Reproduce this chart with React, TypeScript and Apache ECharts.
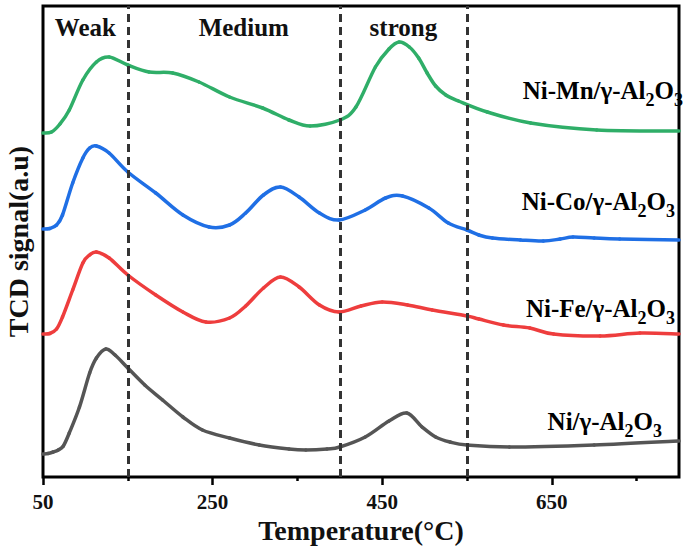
import { useEffect, useRef } from 'react';
import * as echarts from 'echarts';

const SERIF = '"Liberation Serif", "Times New Roman", Times, serif';

// x axis (Temperature, °C)
const xMin = 50;
const xMax = 800;
const xMajorTicks = [50, 250, 450, 650];
const xMinorTicks = [150, 350, 550, 750];
const dividers = [150, 400, 550];
const regionNames = ['Weak', 'Medium', 'strong'];
const regionBounds = [50, 150, 400, 550];

// TCD signal (a.u.), curves stacked with offsets
const niMn: number[][] = [
  [50, 344], [60, 345], [70, 353], [81, 367], [97, 397], [113, 415], [128, 420], [150, 412],
  [175, 405], [203, 404], [234, 395], [270, 380], [309, 369], [340, 357], [365, 351],
  [400, 357], [419, 370], [442, 410], [458, 428], [470, 435], [482, 430], [493, 419],
  [503, 404], [513, 391], [525, 382], [540, 376], [574, 365], [625, 354], [703, 347], [800, 346],
];
const niCo: number[][] = [
  [50, 248], [58, 248.5], [66, 252], [73, 262], [85, 294], [97, 319], [105, 329], [113, 331],
  [128, 324], [150, 305], [183, 284], [215, 262], [246, 250], [270, 252], [289, 264],
  [310, 282], [330, 290], [352, 280], [376, 264], [399, 257], [430, 267], [454, 279],
  [474, 281], [505, 269], [528, 254], [550, 247], [564, 242], [580, 239], [613, 237],
  [640, 236], [660, 238], [675, 240], [700, 239], [730, 238], [800, 237],
];
const niFe: number[][] = [
  [50, 143], [58, 143.5], [66, 148], [73, 160], [85, 187], [97, 214], [105, 222], [113, 225],
  [128, 219], [150, 202], [183, 182], [215, 165], [242, 155], [270, 159], [289, 171],
  [310, 189], [330, 200], [352, 190], [376, 172], [399, 165], [425, 171], [450, 175], [480, 172],
  [509, 167], [550, 161], [564, 158], [593, 152], [624, 149], [652, 143], [707, 141], [754, 144],
  [800, 143],
];
const ni: number[][] = [
  [50, 23], [56, 23.5], [62, 25], [68, 27], [74, 31], [81, 44], [93, 70], [105, 104], [113, 119],
  [124, 128], [135, 122], [150, 109], [170, 92], [191, 77], [215, 60], [238, 47], [270, 39],
  [305, 32], [340, 28], [360, 27], [385, 28], [400, 30], [430, 40], [458, 56], [479, 64],
  [497, 50], [513, 40], [530, 35], [550, 32], [600, 30], [700, 32], [800, 36],
];

const seriesNames = ['Ni-Mn/γ-Al2O3', 'Ni-Co/γ-Al2O3', 'Ni-Fe/γ-Al2O3', 'Ni/γ-Al2O3'];
const seriesPrefixes = ['Ni-Mn/γ-Al', 'Ni-Co/γ-Al', 'Ni-Fe/γ-Al', 'Ni/γ-Al'];
const seriesColors = ['#2fae68', '#1f6fe5', '#ee3d3d', '#555555'];
const seriesData = [niMn, niCo, niFe, ni];

function smoothSeries(name: string, pts: number[][], color: string) {
  // Catmull-Rom spline through the data points, drawn segment by segment
  return {
    type: 'custom',
    name,
    coordinateSystem: 'cartesian2d',
    data: pts,
    encode: { x: 0, y: 1 },
    z: 3,
    renderItem: (params: any, api: any) => {
      const k = params.dataIndex;
      const n = pts.length;
      if (k >= n - 1) return null;
      const P = (j: number) => api.coord(pts[Math.max(0, Math.min(n - 1, j))]);
      const p0 = P(k - 1);
      const p1 = P(k);
      const p2 = P(k + 1);
      const p3 = P(k + 2);
      const t = 1 / 6;
      return {
        type: 'bezierCurve',
        shape: {
          x1: p1[0],
          y1: p1[1],
          x2: p2[0],
          y2: p2[1],
          cpx1: p1[0] + (p2[0] - p0[0]) * t,
          cpy1: p1[1] + (p2[1] - p0[1]) * t,
          cpx2: p2[0] - (p3[0] - p1[0]) * t,
          cpy2: p2[1] - (p3[1] - p1[1]) * t,
        },
        style: { stroke: color, lineWidth: 3.5, fill: 'none', lineCap: 'round' },
      };
    },
  };
}

export default function App() {
  const ref = useRef<HTMLDivElement>(null);
  useEffect(() => {
    if (!ref.current) return;
    const chart = echarts.init(ref.current, undefined, { renderer: 'svg' });

    const labelPos = [
      { right: 683, y: 90 },
      { right: 675, y: 201 },
      { right: 675, y: 308 },
      { right: 662, y: 421 },
    ];

    const rich = {
      m: { fontFamily: SERIF, fontWeight: 'bold', fontSize: 25, color: '#111', verticalAlign: 'middle' },
      s: { fontFamily: SERIF, fontWeight: 'bold', fontSize: 18, color: '#111', verticalAlign: 'middle', padding: [20, 0, 0, 0] },
    };

    const graphic = seriesPrefixes.map((p, i) => ({
      type: 'text',
      x: labelPos[i].right,
      y: labelPos[i].y,
      z: 100,
      style: {
        text: `{m|${p}}{s|2}{m|O}{s|3}`,
        rich,
        align: 'right',
        verticalAlign: 'middle',
      },
    }));

    const areas = regionNames.map((n, i) => [
      {
        xAxis: regionBounds[i],
        name: n,
        label: { offset: i === 1 ? [10, 0] : [0, 0] },
      },
      { xAxis: regionBounds[i + 1] },
    ]);

    const series: any[] = seriesData.map((d, i) => smoothSeries(seriesNames[i], d, seriesColors[i]));

    series.push({
      type: 'line',
      name: 'regions',
      data: [],
      silent: true,
      markLine: {
        silent: true,
        symbol: ['none', 'none'],
        label: { show: false },
        lineStyle: { type: [8, 5], color: '#333', width: 3 },
        data: dividers.map((v) => ({ xAxis: v })),
      },
      markArea: {
        silent: true,
        itemStyle: { color: 'rgba(0,0,0,0)' },
        label: {
          show: true,
          position: 'insideTop',
          distance: 9,
          fontFamily: SERIF,
          fontWeight: 'bold',
          fontSize: 25,
          color: '#111',
        },
        data: areas,
      },
    });

    chart.setOption({
      animation: false,
      backgroundColor: '#fff',
      grid: {
        left: 43,
        right: 6,
        top: 6,
        bottom: 78,
        containLabel: false,
        outerBoundsMode: 'none',
        show: true,
        borderColor: '#000',
        borderWidth: 3,
        backgroundColor: 'transparent',
      },
      xAxis: [
        {
          type: 'value',
          position: 'bottom',
          min: xMin,
          max: xMax,
          name: 'Temperature(°C)',
          nameLocation: 'middle',
          nameGap: 34,
          nameTextStyle: { fontFamily: SERIF, fontWeight: 'bold', fontSize: 28, color: '#111' },
          axisLine: { show: false },
          splitLine: { show: false },
          axisTick: { show: true, customValues: xMajorTicks, length: 8, lineStyle: { color: '#000', width: 2.5 } },
          axisLabel: {
            customValues: xMajorTicks,
            margin: 14,
            fontFamily: SERIF,
            fontWeight: 'bold',
            fontSize: 21,
            color: '#111',
          },
        },
        {
          type: 'value',
          position: 'bottom',
          min: xMin,
          max: xMax,
          axisLine: { show: false },
          splitLine: { show: false },
          axisLabel: { show: false },
          axisTick: { show: true, customValues: xMinorTicks, length: 4, lineStyle: { color: '#000', width: 2.5 } },
        },
      ],
      yAxis: {
        type: 'value',
        min: 0,
        max: 471,
        name: 'TCD signal(a.u)',
        nameLocation: 'middle',
        nameRotate: 90,
        nameGap: 11,
        nameTextStyle: { fontFamily: SERIF, fontWeight: 'bold', fontSize: 28, color: '#111' },
        axisLine: { show: false },
        axisTick: { show: false },
        axisLabel: { show: false },
        splitLine: { show: false },
      },
      series,
      graphic,
    });
    return () => chart.dispose();
  }, []);
  return (
    <div
      ref={ref}
      style={{ position: 'fixed', left: 0, top: 0, width: 685, height: 555, background: '#fff' }}
    />
  );
}
